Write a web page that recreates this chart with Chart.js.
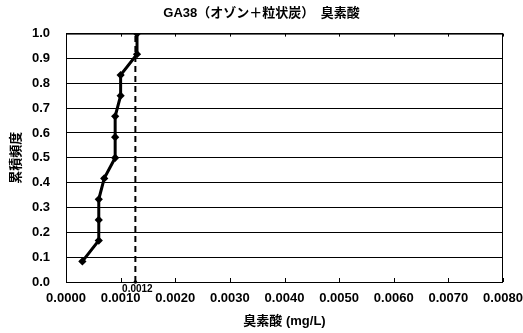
<!DOCTYPE html>
<html>
<head>
<meta charset="utf-8">
<script src="https://cdn.jsdelivr.net/npm/chart.js@4"></script>
<style>
  body { margin: 0; background: #fff; }
  #wrap { width: 523px; height: 333px; }
</style>
</head>
<body>
<div id="wrap"><canvas id="cdf_chart" width="523" height="333"></canvas></div>
<script>
// cumulative frequency (k/12) vs bromate concentration
const cumFreq = [0.083, 0.167, 0.25, 0.333, 0.417, 0.5, 0.583, 0.667, 0.75, 0.833, 0.917, 1.0];
const bromate = [0.0003, 0.0006, 0.0006, 0.0006, 0.0007, 0.0009, 0.0009, 0.0009, 0.0010, 0.0010, 0.0013, 0.0013];
const refValue = 0.00127;
const refLabel = '0.0012';
const xTicks = [0, 0.001, 0.002, 0.003, 0.004, 0.005, 0.006, 0.007, 0.008];

const FONT = '"Liberation Sans", "Noto Sans CJK JP", sans-serif';

// frame, inward ticks and the reference label
const extras = {
    id: 'extras',
    afterDatasetsDraw(chart) {
        const ctx = chart.ctx;
        const a = chart.chartArea;
        const xs = chart.scales.x;
        ctx.save();
        ctx.strokeStyle = '#000';
        ctx.lineWidth = 1;
        ctx.strokeRect(a.left + 0.5, a.top + 0.5, a.right - a.left - 1, a.bottom - a.top);
        ctx.beginPath();
        xTicks.forEach(function(v){
            const px = Math.round(xs.getPixelForValue(v)) + 0.5;
            ctx.moveTo(px, a.bottom);
            ctx.lineTo(px, a.bottom - 4);
            ctx.moveTo(px, a.top);
            ctx.lineTo(px, a.top + 3);
        });
        ctx.stroke();
        // reference marker
        const rx = xs.getPixelForValue(refValue);
        ctx.fillStyle = '#000';
        ctx.beginPath();
        ctx.arc(rx, a.bottom, 1.8, 0, Math.PI * 2);
        ctx.fill();
        ctx.font = 'bold 10px ' + FONT;
        ctx.textAlign = 'center';
        ctx.textBaseline = 'middle';
        ctx.fillText(refLabel, rx + 2, a.bottom + 7);
        ctx.restore();
    }
};

const ctx = document.getElementById('cdf_chart').getContext('2d');
const chart = new Chart(ctx, {
    type: 'scatter',
    data: {
        datasets: [{
            label: '臭素酸',
            data: bromate.map(function(v, i){ return {x: v, y: cumFreq[i]}; }),
            showLine: true,
            borderColor: '#000',
            backgroundColor: '#000',
            borderWidth: 3,
            pointRadius: 2,
            pointStyle: 'rectRot',
            order: 1
        }, {
            label: 'ref',
            data: [{x: refValue, y: 0}, {x: refValue, y: 1}],
            showLine: true,
            borderColor: '#000',
            borderWidth: 2,
            borderDash: [6, 4],
            pointRadius: 0,
            order: 2
        }]
    },
    options: {
        responsive: false,
        animation: false,
        layout: { padding: { left: 0, right: 0, top: 0, bottom: 0 } },
        plugins: {
            legend: { display: false },
            tooltip: { enabled: false },
            title: {
                display: true,
                text: 'GA38（オゾン＋粒状炭）　臭素酸',
                color: '#000',
                font: { family: FONT, size: 13, weight: 'bold' },
                padding: { top: 6, bottom: 12 }
            }
        },
        scales: {
            x: {
                type: 'linear',
                min: 0,
                max: 0.008,
                afterFit: function(s){
                    s.height = 51;
                    s.paddingRight = 20;
                    s.paddingLeft = 0;
                },
                afterBuildTicks: function(s){ s.ticks = xTicks.map(function(v){ return {value: v}; }); },
                ticks: {
                    color: '#000',
                    padding: 9,
                    maxRotation: 0,
                    font: { family: FONT, size: 13, weight: 'bold' },
                    callback: function(v){ return Number(v).toFixed(4); }
                },
                grid: { display: false, drawTicks: false },
                border: { display: false },
                title: {
                    display: true,
                    text: '臭素酸 (mg/L)',
                    color: '#000',
                    font: { family: FONT, size: 13, weight: 'bold' },
                    padding: { top: 0, bottom: 4 }
                }
            },
            y: {
                min: 0,
                max: 1,
                afterFit: function(s){ s.width = 66; },
                ticks: {
                    stepSize: 0.1,
                    color: '#000',
                    padding: 16,
                    font: { family: FONT, size: 13, weight: 'bold' },
                    callback: function(v){ return Number(v).toFixed(1); }
                },
                grid: { color: '#000', lineWidth: 1, drawTicks: false },
                border: { display: false },
                title: {
                    display: true,
                    text: '累積頻度',
                    color: '#000',
                    font: { family: FONT, size: 13, weight: 'bold' },
                    padding: { top: 9, bottom: 0 }
                }
            }
        }
    },
    plugins: [extras]
});
</script>
</body>
</html>
